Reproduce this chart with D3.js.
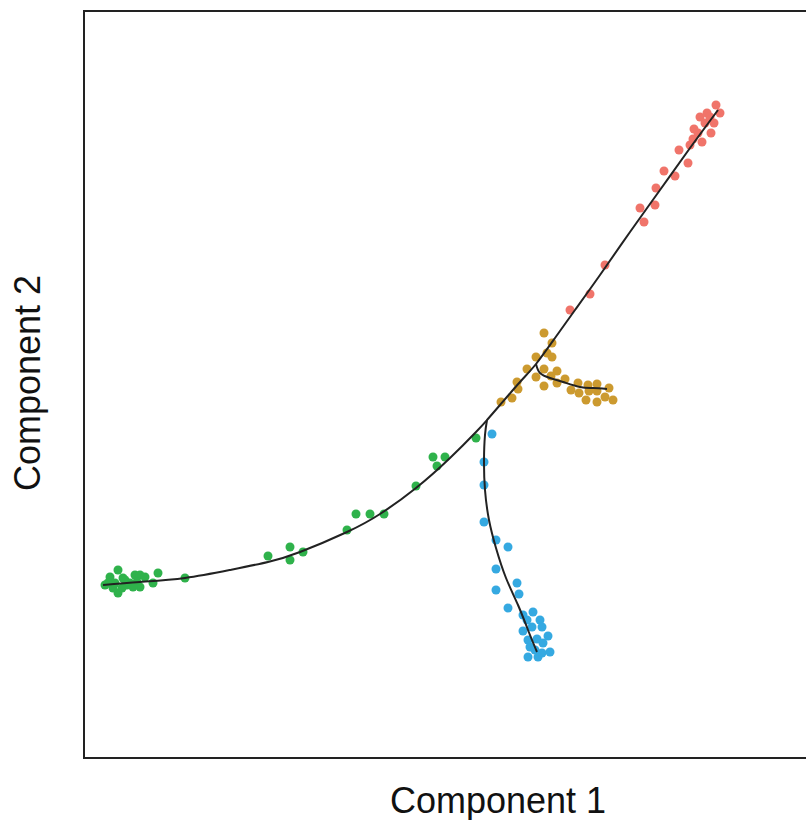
<!DOCTYPE html>
<html>
<head>
<meta charset="utf-8">
<script src="https://cdn.jsdelivr.net/npm/d3@7"></script>
<style>
  body { margin: 0; background: #fff; }
  svg { display: block; }
</style>
</head>
<body>
<div id="chart"></div>
<script>
// cell positions, per state
const green = [
  [-31.6, -18.6], [-32.4, -19.3], [-32.9, -20.1], [-31.9, -19.9], [-31.1, -19.4],
  [-31.6, -20.9], [-30.7, -20.1], [-30.4, -19.9], [-29.9, -19.1], [-29.4, -19.1],
  [-28.9, -19.3], [-29.7, -19.8], [-29.4, -20.3], [-28.1, -19.9], [-27.6, -18.9],
  [-24.9, -19.4], [-32.1, -20.4], [-31.2, -20.4], [-30.1, -20.3], [-32.6, -19.9],
  [-30.9, -19.6],
  [-16.6, -17.2], [-14.4, -16.3], [-14.4, -17.6], [-13.1, -16.8], [-8.7, -14.6],
  [-7.8, -13.0], [-6.4, -13.0], [-5.0, -13.0], [-1.8, -10.2], [-0.1, -7.3],
  [0.3, -8.2], [1.1, -7.3], [4.2, -5.4]
];
const blue = [
  [5.8, -5.0], [5.0, -7.8], [5.0, -10.1], [5.0, -13.8], [6.2, -15.6], [7.4, -16.3],
  [6.2, -18.5], [8.3, -19.9], [6.2, -20.6], [8.5, -21.0], [7.4, -22.4], [8.9, -23.1],
  [9.9, -22.8], [9.3, -23.6], [10.6, -23.6], [8.9, -24.7], [9.8, -24.3], [10.8, -24.3],
  [11.4, -25.2], [9.4, -25.6], [10.3, -25.5], [10.9, -25.9], [9.6, -26.3], [10.1, -26.6],
  [11.6, -26.8], [9.4, -27.3], [10.4, -27.3], [10.8, -26.9]
];
const gold = [
  [11.0, 5.1], [11.8, 4.1], [10.2, 2.7], [11.3, 3.1], [11.8, 2.7], [9.3, 1.5],
  [11.0, 1.5], [12.3, 1.3], [10.2, 0.7], [11.7, 0.8], [8.3, 0.2], [11.0, -0.2],
  [12.3, 0.1], [13.1, 0.5], [8.4, -0.5], [13.7, -0.6], [14.4, 0.1], [14.5, -0.9],
  [15.4, -0.1], [16.3, 0.0], [15.5, -0.7], [16.3, -0.7], [17.5, -0.4], [15.2, -1.6],
  [16.3, -1.8], [17.1, -1.3], [17.9, -1.6], [7.8, -1.4], [6.7, -1.8]
];
const red = [
  [13.6, 7.4], [15.6, 9.0], [17.1, 11.9], [21.0, 16.2], [20.6, 17.6], [22.1, 17.9],
  [22.2, 19.6], [23.0, 21.3], [24.1, 20.8], [24.5, 23.4], [25.4, 22.1], [25.6, 23.9],
  [25.9, 24.5], [26.0, 25.5], [26.8, 24.2], [26.6, 26.7], [27.3, 27.1], [27.7, 25.1],
  [27.1, 26.1], [28.0, 26.1], [28.2, 27.9], [28.6, 27.1], [26.4, 25.1], [27.6, 26.7]
];

// trajectory (principal graph)
const trunk = [
  [-33.1, -20.1], [-29.4, -19.8], [-24.9, -19.4], [-20.4, -18.6], [-16.6, -17.8],
  [-13.4, -16.8], [-8.7, -14.8], [-5.4, -13.0], [-1.8, -10.4], [1.6, -7.4],
  [4.2, -4.8], [5.3, -3.6], [6.6, -2.1], [8.6, 0.2], [10.2, 2.0], [12.1, 4.6],
  [14.1, 7.4], [16.6, 10.9], [19.6, 15.2], [22.6, 19.4], [25.6, 23.6], [28.4, 27.4]
];
const branchBlue = [
  [5.3, -3.6], [5.1, -5.1], [5.0, -7.6], [5.1, -10.6], [5.5, -13.6], [6.2, -16.4],
  [7.2, -19.4], [8.4, -22.1], [9.4, -24.6], [10.3, -26.8]
];
const branchGold = [
  [10.2, 2.0], [10.6, 1.1], [11.6, 0.6], [12.9, 0.2], [14.6, -0.3], [15.9, -0.4], [17.3, -0.5]
];

const groups = [
  { pts: green, color: "#2fb24b" },
  { pts: blue, color: "#35a9e1" },
  { pts: gold, color: "#cc9a2f" },
  { pts: red, color: "#f0746a" }
];

var width = 806, height = 820;
var panel = { left: 84, top: 11, right: 831, bottom: 758 };

var svg = d3.select("#chart").append("svg")
    .attr("width", width)
    .attr("height", height);

var x = d3.scaleLinear().domain([-35, 39.7]).range([panel.left, panel.right]);
var y = d3.scaleLinear().domain([-37.4, 37.3]).range([panel.bottom, panel.top]);

groups.forEach(function(g) {
    svg.append("g")
        .selectAll("circle")
        .data(g.pts)
        .enter()
        .append("circle")
        .attr("cx", d => x(d[0]))
        .attr("cy", d => y(d[1]))
        .attr("r", 4.5)
        .attr("fill", g.color);
});

var line = d3.line()
    .x(d => x(d[0]))
    .y(d => y(d[1]))
    .curve(d3.curveNatural);

[trunk, branchBlue, branchGold].forEach(function(p) {
    svg.append("path")
        .attr("d", line(p))
        .attr("fill", "none")
        .attr("stroke", "#222")
        .attr("stroke-width", 2);
});

// panel border
svg.append("rect")
    .attr("x", panel.left)
    .attr("y", panel.top)
    .attr("width", panel.right - panel.left)
    .attr("height", panel.bottom - panel.top)
    .attr("fill", "none")
    .attr("stroke", "#222")
    .attr("stroke-width", 2);

svg.append("text")
    .attr("x", 498)
    .attr("y", 813)
    .attr("text-anchor", "middle")
    .style("font-family", "Liberation Sans, Arial, sans-serif")
    .style("font-size", "36px")
    .style("fill", "#111")
    .text("Component 1");

svg.append("text")
    .attr("transform", "translate(40,383) rotate(-90)")
    .attr("text-anchor", "middle")
    .style("font-family", "Liberation Sans, Arial, sans-serif")
    .style("font-size", "36px")
    .style("fill", "#111")
    .text("Component 2");
</script>
</body>
</html>
